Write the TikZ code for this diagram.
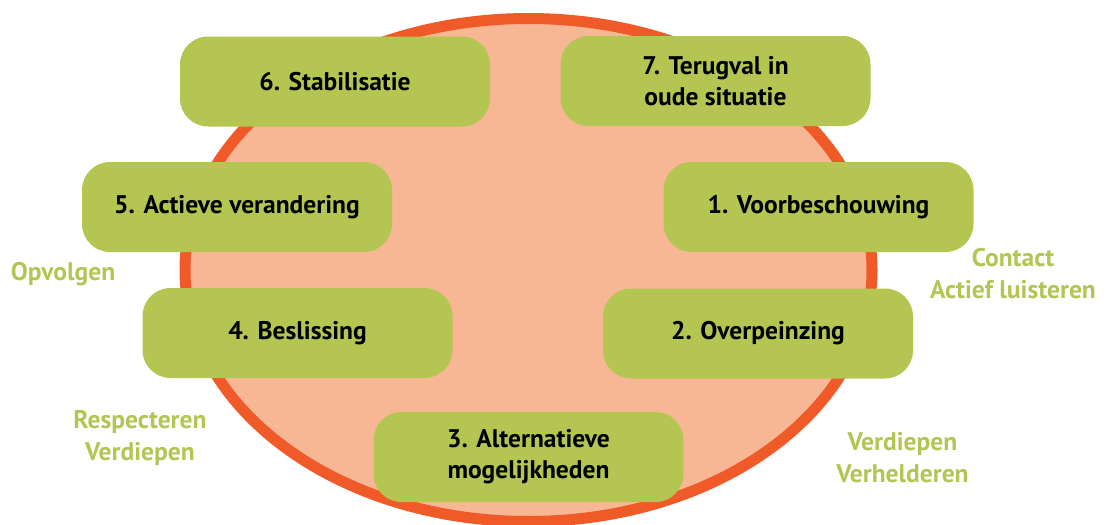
\documentclass[tikz,border=0pt]{standalone}
\usepackage{fontspec}
\setmainfont{PT Sans}
\definecolor{boxgreen}{HTML}{B5C552}
\definecolor{ringfill}{HTML}{F8B794}
\definecolor{ringline}{HTML}{F05A28}
\definecolor{tipgreen}{HTML}{B3C553}
\tikzset{stage/.style={fill=boxgreen,rounded corners=28pt,minimum width=310pt,
        minimum height=90pt,align=center,
        font=\bfseries\fontsize{25.5}{31}\selectfont},
    tip/.style={text=tipgreen,align=center,
        font=\bfseries\fontsize{25.5}{32}\selectfont},
    }

\begin{document}
\begin{tikzpicture}[x=1pt,y=-1pt]
	\useasboundingbox (0,0) rectangle (1109,525);
	\draw[line width=11pt,draw=ringline,fill=ringfill] (528.5,270) ellipse [x radius=343.5, y radius=251.5];
	% stages round the ring
	\node[stage] (s6) at (335,81.5) {6. Stabilisatie};
	\node[stage] (s7) at (715.5,81) {7. Terugval in\\oude situatie};
	\node[stage] (s5) at (237,207) {5. Actieve verandering};
	\node[stage] (s1) at (818.5,207) {1. Voorbeschouwing};
	\node[stage] (s4) at (297.5,333) {4. Beslissing};
	\node[stage] (s2) at (758,333.5) {2. Overpeinzing};
	\node[stage] (s3) at (528.5,457) {3. Alternatieve\\mogelijkheden};
	% skills outside
	\node[tip] (opv) at (63,274) {Opvolgen};
	\node[tip] (con) at (1013,274) {Contact\\Actief luisteren};
	\node[tip] (res) at (140,438) {Respecteren\\Verdiepen};
	\node[tip] (ver) at (902.5,458) {Verdiepen\\Verhelderen};
\end{tikzpicture}
\end{document}
